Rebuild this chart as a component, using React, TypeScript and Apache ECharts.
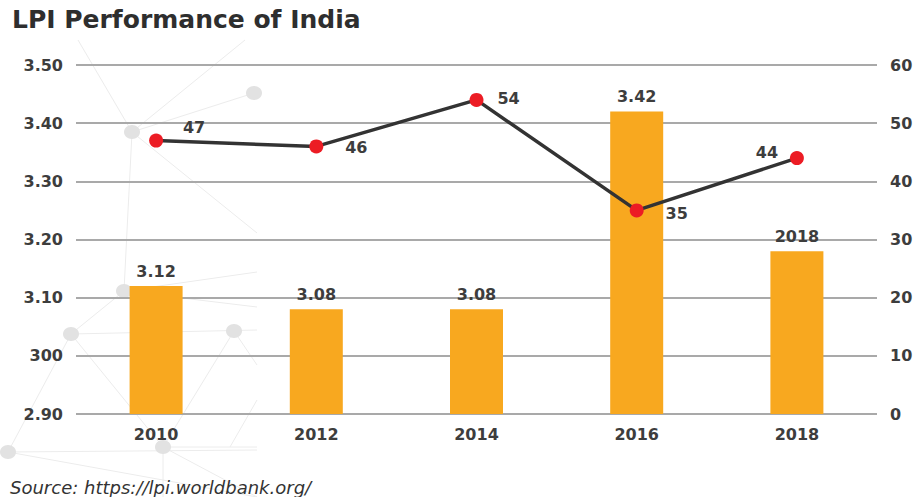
import React, { useEffect, useRef } from "react";
import * as echarts from "echarts";

const years = ["2010", "2012", "2014", "2016", "2018"];
const lpiScores = [3.12, 3.08, 3.08, 3.42, 3.18];
const lpiScoreLabels = ["3.12", "3.08", "3.08", "3.42", "2018"];
const rankValues = [47, 46, 54, 35, 44];
const leftTickLabels = ["2.90", "300", "3.10", "3.20", "3.30", "3.40", "3.50"];
const rankLabelOffsets: [number, number][] = [
  [38, -13],
  [40, 1],
  [32, -1],
  [40, 3],
  [-30, -6],
];

const FONT = "DejaVu Sans";
const TXT = "#3d3d3d";

// decorative background network (light gray nodes + links)
const nodes: [number, number][] = [
  [132, 132],
  [254, 93],
  [124, 291],
  [71, 334],
  [234, 331],
  [163, 447],
  [8, 452],
];
const links: [number, number, number, number][] = [
  [132, 132, 78, 40],
  [132, 132, 245, 40],
  [132, 132, 254, 93],
  [132, 132, 257, 233],
  [132, 132, 124, 291],
  [124, 291, 71, 334],
  [124, 291, 257, 272],
  [71, 334, 257, 330],
  [71, 334, 163, 447],
  [71, 334, 8, 452],
  [234, 331, 163, 447],
  [234, 331, 257, 365],
  [124, 291, 257, 307],
  [163, 447, 257, 447],
  [8, 452, 257, 450],
  [163, 447, 163, 497],
  [8, 452, 257, 497],
  [163, 447, 257, 497],
  [257, 400, 230, 447],
];

export default function App() {
  const ref = useRef<HTMLDivElement>(null);
  useEffect(() => {
    if (!ref.current) return;
    const chart = echarts.init(ref.current, undefined, { renderer: "svg" });
    const graphics: any[] = [];
    links.forEach((l) =>
      graphics.push({
        type: "line",
        z: -10,
        silent: true,
        shape: { x1: l[0], y1: l[1], x2: l[2], y2: l[3] },
        style: { stroke: "#ececec", lineWidth: 1 },
      })
    );
    nodes.forEach((n) =>
      graphics.push({
        type: "ellipse",
        z: -9,
        silent: true,
        shape: { cx: n[0], cy: n[1], rx: 8, ry: 7 },
        style: { fill: "#e2e2e2" },
      })
    );
    graphics.push({
      type: "text",
      left: 12,
      top: 7,
      style: {
        text: "LPI Performance of India",
        fontFamily: FONT,
        fontSize: 25,
        fontWeight: "bold",
        fill: "#2e2e2e",
      },
    });
    graphics.push({
      type: "text",
      left: 10,
      top: 478,
      style: {
        text: "Source: https://lpi.worldbank.org/",
        fontFamily: FONT,
        fontSize: 18,
        fontStyle: "italic",
        fill: "#333",
      },
    });

    const axisText = {
      fontFamily: FONT,
      fontSize: 16,
      fontWeight: "bold",
      color: TXT,
    };

    chart.setOption({
      animation: false,
      backgroundColor: "#fff",
      graphic: graphics,
      grid: { left: 76, right: 42, top: 65, bottom: 83, containLabel: false },
      xAxis: {
        type: "category",
        data: years,
        axisLine: { show: false },
        axisTick: { show: false },
        axisLabel: { margin: 12, ...axisText },
      },
      yAxis: [
        {
          type: "value",
          min: 2.9,
          max: 3.5,
          interval: 0.1,
          axisLine: { show: false },
          axisTick: { show: false },
          splitLine: { lineStyle: { color: "#a9a9a9", width: 2 } },
          axisLabel: {
            margin: 13,
            ...axisText,
            formatter: (v: number) => leftTickLabels[Math.round((v - 2.9) / 0.1)] ?? "",
          },
        },
        {
          type: "value",
          min: 0,
          max: 60,
          interval: 10,
          position: "right",
          axisLine: { show: false },
          axisTick: { show: false },
          splitLine: { show: false },
          axisLabel: { margin: 13, ...axisText },
        },
      ],
      series: [
        {
          type: "bar",
          yAxisIndex: 0,
          data: lpiScores,
          barWidth: 53,
          itemStyle: { color: "#f8a81f" },
          label: {
            show: true,
            position: "top",
            distance: 7,
            ...axisText,
            formatter: (p: any) => lpiScoreLabels[p.dataIndex],
          },
          z: 2,
        },
        {
          type: "line",
          yAxisIndex: 1,
          data: rankValues.map((v, i) => ({
            value: v,
            label: { offset: rankLabelOffsets[i] },
          })),
          symbol: "circle",
          symbolSize: 14,
          lineStyle: { color: "#333333", width: 3.5 },
          itemStyle: { color: "#ec1c24" },
          label: {
            show: true,
            position: "inside",
            ...axisText,
          },
          z: 5,
        },
      ],
    });
    return () => chart.dispose();
  }, []);
  return <div ref={ref} style={{ width: 919, height: 497, position: "absolute", left: 0, top: 0 }} />;
}
